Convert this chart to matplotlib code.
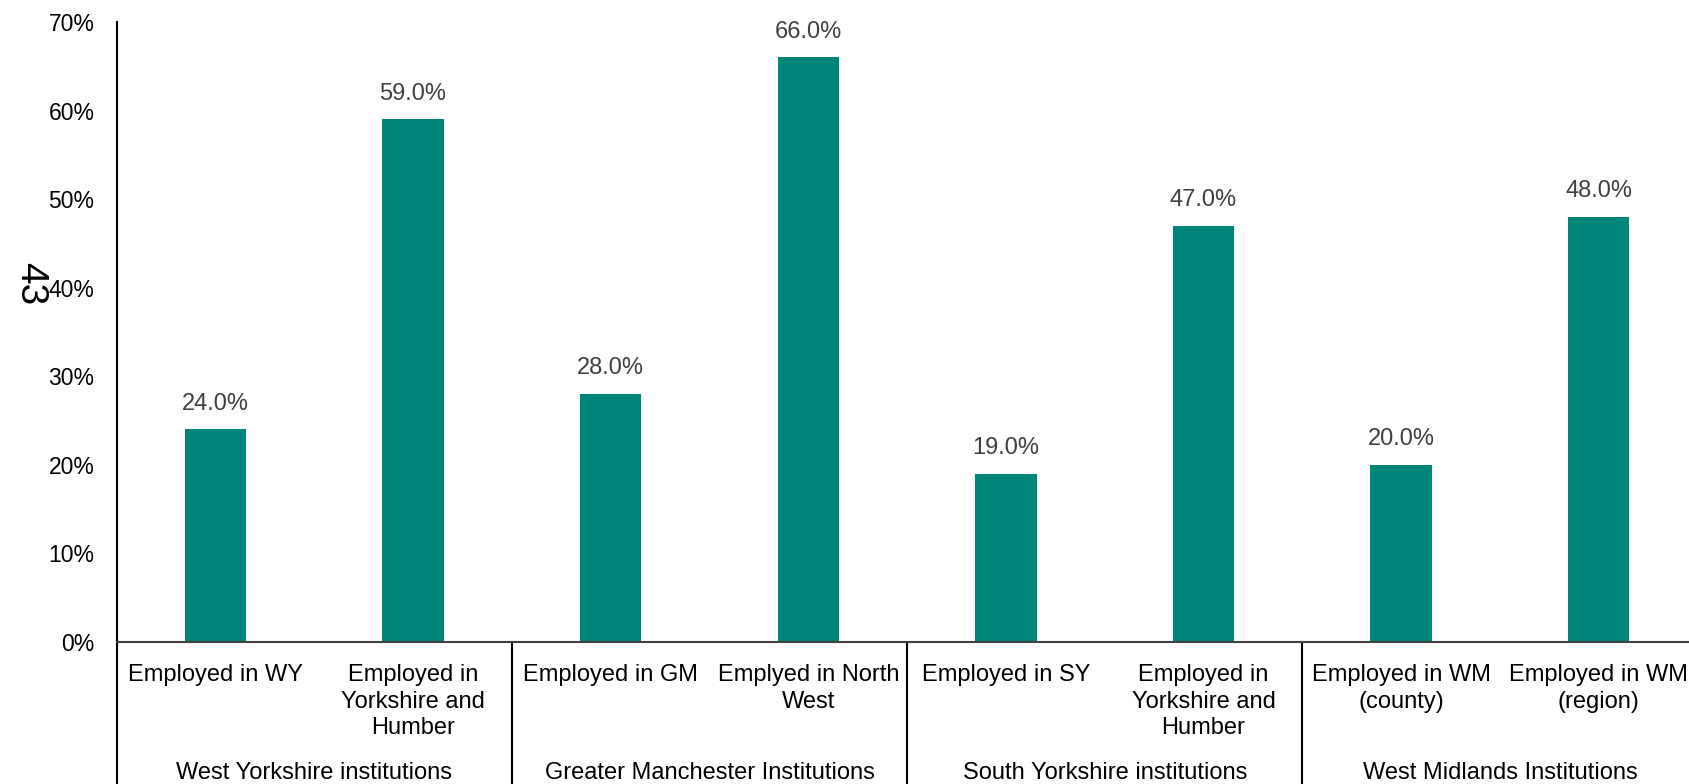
import matplotlib.pyplot as plt
from matplotlib.lines import Line2D

plt.rcParams['font.family'] = ['Liberation Sans', 'DejaVu Sans']

categorias = ["Employed in WY", "Employed in\nYorkshire and\nHumber",
              "Employed in GM", "Emplyed in North\nWest",
              "Employed in SY", "Employed in\nYorkshire and\nHumber",
              "Employed in WM\n(county)", "Employed in WM\n(region)"]
valores = [24.0, 59.0, 28.0, 66.0, 19.0, 47.0, 20.0, 48.0]
grupos = ["West Yorkshire institutions", "Greater Manchester Institutions",
          "South Yorkshire institutions", "West Midlands Institutions"]
yticks = [0, 10, 20, 30, 40, 50, 60, 70]

W, H = 1690, 784
fig = plt.figure(figsize=(W / 100, H / 100), dpi=100)
izq, base, arriba, slot = 116.7, 642, 22, 197.6
ax = fig.add_axes([izq / W, (H - base) / H, 8 * slot / W, (base - arriba) / H])

x = range(len(valores))
ax.bar(x, valores, width=0.31, color="#00857a")
for xi, v in zip(x, valores):
    ax.annotate(f"{v:.1f}%", (xi, v), xytext=(0, 10.5), textcoords="offset points",
                ha="center", va="bottom", fontsize=17, color="#404040")

ax.set_xlim(-0.5, len(valores) - 0.5)
ax.set_ylim(0, 70)
ax.set_yticks(yticks)
ax.set_yticklabels([f"{t}%" for t in yticks], fontsize=16.5)
ax.set_xticks(list(x))
ax.set_xticklabels(categorias, fontsize=17, linespacing=1.27)
ax.tick_params(axis="both", length=0)
ax.tick_params(axis="x", pad=16)
ax.tick_params(axis="y", pad=16)

for s in ["top", "right"]:
    ax.spines[s].set_visible(False)
ax.spines["left"].set_linewidth(1.5)
ax.spines["left"].set_color("black")
ax.spines["bottom"].set_linewidth(1.5)
ax.spines["bottom"].set_color("#404040")

# divisores de grupos y etiquetas de grupo debajo del eje
trans = ax.get_xaxis_transform()
for d in [-0.5, 1.5, 3.5, 5.5]:
    ax.add_line(Line2D([d, d], [0, -0.3], transform=trans, color="black",
                       linewidth=1.5, clip_on=False))
for i, g in enumerate(grupos):
    ax.text(2 * i + 0.5, (base - 773) / (base - arriba), g, transform=trans,
            ha="center", va="center", fontsize=17)

fig.text(30 / W, 1 - 284 / H, "43", rotation=-90, ha="center", va="center",
         fontsize=28)

fig.savefig("out.png", dpi=100)
